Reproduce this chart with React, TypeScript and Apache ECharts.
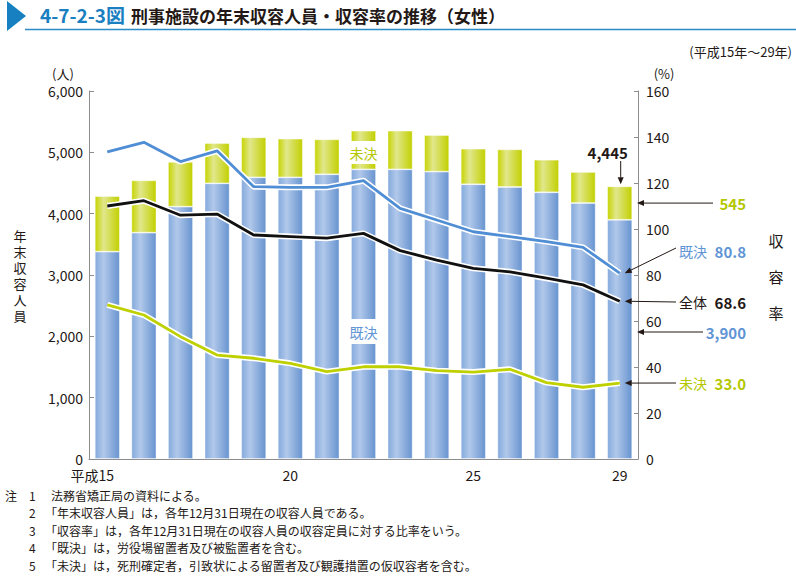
import React, { useEffect, useRef } from 'react';
import * as echarts from 'echarts';

const categories = ['平成15', '16', '17', '18', '19', '20', '21', '22', '23', '24', '25', '26', '27', '28', '29'];
const shownLabelIdx = [0, 5, 10, 14];
// 年末収容人員 (人)
const kiketsu = [3380, 3690, 4114, 4495, 4593, 4593, 4642, 4723, 4723, 4685, 4479, 4435, 4348, 4174, 3900];
const miketsu = [908, 854, 729, 657, 652, 630, 570, 630, 630, 598, 581, 614, 532, 506, 545];
// 収容率 (%)
const rateKiketsu = [133.5, 137.7, 129.3, 134, 118.4, 118.1, 118.1, 121, 109, 103.9, 98.8, 96.7, 94.5, 92, 80.8];
const rateTotal = [110, 112.3, 106, 106.5, 97.4, 96.7, 96, 98.1, 90.6, 86.5, 82.9, 81.4, 78.6, 75.7, 68.6];
const rateMiketsu = [67, 62.6, 53.2, 45.2, 43.8, 41.6, 38, 40.1, 40.1, 38.4, 37.8, 39, 33.2, 31.2, 33.0];

const notes = [
  '法務省矯正局の資料による。',
  '「年末収容人員」は，各年12月31日現在の収容人員である。',
  '「収容率」は，各年12月31日現在の収容人員の収容定員に対する比率をいう。',
  '「既決」は，労役場留置者及び被監置者を含む。',
  '「未決」は，死刑確定者，引致状による留置者及び観護措置の仮収容者を含む。',
];

const FONT = "'Noto Sans CJK JP', 'Noto Sans', sans-serif";
const DARK = '#231815';
const BLUE_T = '#5f95d5';
const GREEN_T = '#b4c700';
const GRID = { left: 89, right: 158, top: 91, bottom: 117 };
const AXIS_RIGHT_X = 796 - GRID.right;

function txt(x: number, y: number, text: string, o: any = {}) {
  return {
    type: 'text',
    x,
    y,
    z: 100,
    style: {
      text,
      fill: o.fill || DARK,
      fontSize: o.fontSize || 14,
      fontFamily: FONT,
      fontWeight: o.fontWeight || 'normal',
      align: o.align || 'left',
      verticalAlign: 'middle',
      lineHeight: o.lineHeight,
    },
  };
}

function vtext(x: number, yCenter: number, text: string, pitch: number, fontSize: number) {
  const chars = Array.from(text);
  const y0 = yCenter - ((chars.length - 1) * pitch) / 2;
  return chars.map((c, i) => txt(x, y0 + i * pitch, c, { fontSize, align: 'center', lineHeight: fontSize }));
}

function arrow(x1: number, y1: number, x2: number, y2: number) {
  const ang = Math.atan2(y2 - y1, x2 - x1);
  const L = 7;
  const W = 3;
  const bx = x2 - L * Math.cos(ang);
  const by = y2 - L * Math.sin(ang);
  const px = -Math.sin(ang);
  const py = Math.cos(ang);
  return [
    { type: 'line', z: 100, shape: { x1, y1, x2: bx, y2: by }, style: { stroke: DARK, lineWidth: 1 } },
    {
      type: 'polygon',
      z: 100,
      shape: { points: [[x2, y2], [bx + px * W, by + py * W], [bx - px * W, by - py * W]] },
      style: { fill: DARK },
    },
  ];
}

export default function App() {
  const ref = useRef<HTMLDivElement>(null);

  useEffect(() => {
    document.body.style.margin = '0';
    const chart = echarts.init(ref.current as HTMLDivElement, null, { renderer: 'svg' });

    const blueGrad = new echarts.graphic.LinearGradient(0, 0, 1, 0, [
      { offset: 0, color: '#84aadd' },
      { offset: 0.35, color: '#b1c8ea' },
      { offset: 1, color: '#6894d0' },
    ]);
    const greenGrad = new echarts.graphic.LinearGradient(0, 0, 1, 0, [
      { offset: 0, color: '#c6d400' },
      { offset: 0.35, color: '#e1e78c' },
      { offset: 1, color: '#c2d000' },
    ]);

    const lineSeries = (data: number[], color: string, name: string) => [
      {
        type: 'line',
        name: name + '_outline',
        yAxisIndex: 1,
        data,
        symbol: 'none',
        z: 5,
        silent: true,
        lineStyle: { color: '#ffffff', width: 6 },
      },
      {
        type: 'line',
        name,
        yAxisIndex: 1,
        data,
        symbol: 'none',
        z: 6,
        lineStyle: { color, width: 2.8 },
      },
    ];

    const axisLine = { show: true, lineStyle: { color: '#8c8c8c', width: 1 } };

    chart.setOption({
      animation: false,
      grid: { ...GRID, containLabel: false },
      xAxis: {
        type: 'category',
        data: categories,
        boundaryGap: true,
        axisLine,
        axisTick: { show: false },
        axisLabel: {
          interval: (i: number) => shownLabelIdx.includes(i),
          formatter: (v: string, i: number) => (i === 0 ? '{a|' + v + '}' : v),
          color: DARK,
          fontSize: 14,
          fontFamily: FONT,
          margin: 9,
          rich: { a: { padding: [0, 30, 0, 0], fontSize: 14, fontFamily: FONT, color: DARK } },
        },
      },
      yAxis: [
        {
          type: 'value',
          min: 0,
          max: 6000,
          interval: 1000,
          axisLine,
          axisTick: { show: true, inside: true, length: 5, lineStyle: { color: '#8c8c8c' } },
          splitLine: { show: false },
          axisLabel: {
            color: DARK,
            fontSize: 14,
            fontFamily: FONT,
            margin: 6,
            formatter: (v: number) => v.toLocaleString('en-US'),
          },
        },
        {
          type: 'value',
          min: 0,
          max: 160,
          interval: 20,
          position: 'right',
          axisLine,
          axisTick: { show: true, inside: true, length: 4, lineStyle: { color: '#8c8c8c' } },
          splitLine: { show: false },
          axisLabel: { color: DARK, fontSize: 14, fontFamily: FONT, margin: 8 },
        },
      ],
      series: [
        {
          type: 'bar',
          name: '既決',
          stack: 'p',
          data: kiketsu,
          barWidth: 25,
          z: 2,
          itemStyle: { color: blueGrad, borderColor: 'rgba(255,255,255,0.55)', borderWidth: 0.8 },
        },
        {
          type: 'bar',
          name: '未決',
          stack: 'p',
          data: miketsu,
          barWidth: 25,
          z: 2,
          itemStyle: { color: greenGrad, borderColor: 'rgba(255,255,255,0.55)', borderWidth: 0.8 },
        },
        ...lineSeries(rateKiketsu, '#4f8dd4', '既決収容率'),
        ...lineSeries(rateTotal, '#111111', '全体収容率'),
        ...lineSeries(rateMiketsu, '#bfd000', '未決収容率'),
      ],
    });

    const last = categories.length - 1;
    const pL = (i: number, v: number) => chart.convertToPixel({ xAxisIndex: 0, yAxisIndex: 0 }, [i, v]) as number[];
    const pR = (i: number, v: number) => chart.convertToPixel({ xAxisIndex: 0, yAxisIndex: 1 }, [i, v]) as number[];

    const totalLast = kiketsu[last] + miketsu[last];
    const topPt = pL(last, totalLast);
    const greenMid = pL(last, kiketsu[last] + miketsu[last] / 2);
    const kPt = pR(last, rateKiketsu[last]);
    const tPt = pR(last, rateTotal[last]);
    const mPt = pR(last, rateMiketsu[last]);

    // in-bar labels at 平成22
    const labIdx = 7;
    const labX = pL(labIdx, 0)[0];
    const yMikBox = 141;
    const yKikBox = 319;

    const graphics: any[] = [
      // title
      { type: 'polygon', z: 100, shape: { points: [[7, 1], [7, 31], [26, 16]] }, style: { fill: '#1680c0' } },
      { type: 'line', z: 100, shape: { x1: 25, y1: 29.5, x2: 796, y2: 29.5 }, style: { stroke: '#2b8bc8', lineWidth: 1.5 } },
      txt(40, 14, '4-7-2-3図', { fill: '#1a7fc1', fontSize: 19, fontWeight: 'bold' }),
      txt(131, 15, '刑事施設の年末収容人員・収容率の推移（女性）', { fontSize: 17, fontWeight: 'bold' }),
      txt(792, 51, '(平成15年〜29年)', { fontSize: 13, align: 'right' }),
      // axis names
      txt(63, 73, '(人)', { fontSize: 13, align: 'center' }),
      txt(664, 73, '(%)', { fontSize: 13, align: 'center' }),
      ...vtext(20, 275, '年末収容人員', 16, 13),
      ...vtext(776, 276, '収容率', 36, 15),
      // in-bar labels
      { type: 'rect', z: 99, shape: { x: labX - 14, y: yMikBox, width: 28, height: 23 }, style: { fill: '#ffffff' } },
      txt(labX, yMikBox + 11.5, '未決', { fill: GREEN_T, align: 'center' }),
      { type: 'rect', z: 99, shape: { x: labX - 14, y: yKikBox, width: 28, height: 25 }, style: { fill: '#ffffff' } },
      txt(labX, yKikBox + 12.5, '既決', { fill: BLUE_T, align: 'center' }),
      // right annotations
      txt(topPt[0] - 12, 152, totalLast.toLocaleString('en-US'), { fontSize: 15, fontWeight: 'bold', align: 'center' }),
      ...arrow(topPt[0] + 1, 161, topPt[0] + 1, topPt[1] - 2),
      txt(746, greenMid[1], miketsu[last].toLocaleString('en-US'), { fill: GREEN_T, fontSize: 15, fontWeight: 'bold', align: 'right' }),
      ...arrow(713, greenMid[1], AXIS_RIGHT_X - 1, greenMid[1]),
      txt(707, 251, '既決', { fill: BLUE_T, align: 'right' }),
      txt(746, 251, rateKiketsu[last].toFixed(1), { fill: BLUE_T, fontSize: 15, fontWeight: 'bold', align: 'right' }),
      ...arrow(676, 248, kPt[0] + 5, kPt[1]),
      txt(707, 302, '全体', { align: 'right' }),
      txt(746, 302, rateTotal[last].toFixed(1), { fontSize: 15, fontWeight: 'bold', align: 'right' }),
      ...arrow(676, 302, tPt[0] + 5, tPt[1]),
      txt(746, 332, kiketsu[last].toLocaleString('en-US'), { fill: BLUE_T, fontSize: 15, fontWeight: 'bold', align: 'right' }),
      ...arrow(703, 332, AXIS_RIGHT_X - 1, 332),
      txt(707, 383, '未決', { fill: GREEN_T, align: 'right' }),
      txt(746, 383, rateMiketsu[last].toFixed(1), { fill: GREEN_T, fontSize: 15, fontWeight: 'bold', align: 'right' }),
      ...arrow(676, 383, mPt[0] + 5, mPt[1]),
      // notes
      txt(5, 495, '注', { fontSize: 12 }),
    ];
    notes.forEach((n, i) => {
      const y = 495 + i * 17.5;
      graphics.push(txt(29, y, String(i + 1), { fontSize: 12 }));
      graphics.push(txt(i === 0 ? 51 : 45, y, n, { fontSize: 12 }));
    });

    chart.setOption({ graphic: graphics });

    return () => chart.dispose();
  }, []);

  return <div ref={ref} style={{ width: 796, height: 576 }} />;
}
